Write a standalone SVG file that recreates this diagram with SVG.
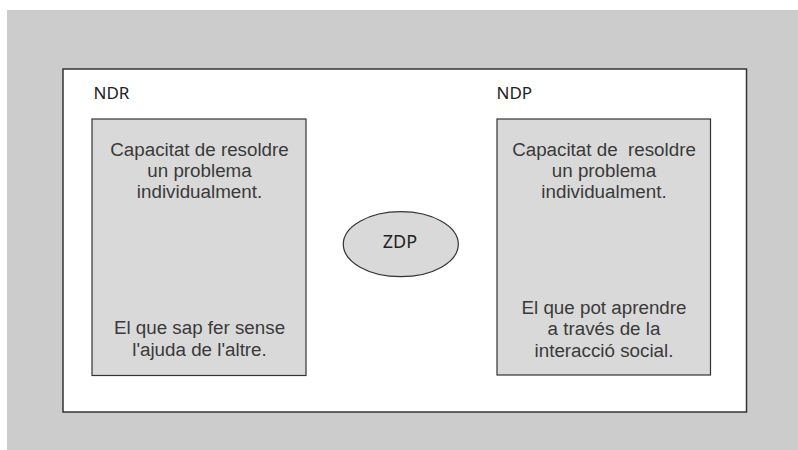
<svg xmlns="http://www.w3.org/2000/svg" width="798" height="450" viewBox="0 0 798 450">
<style>
.bg{fill:#cccccc}
.frame{fill:#ffffff;stroke:#333333;stroke-width:1.5}
.box{fill:#d9d9d9;stroke:#333333;stroke-width:1.2}
.body{font-family:"Liberation Sans",Arial,sans-serif;font-size:18.8px;fill:#3a3a3a;text-anchor:middle;white-space:pre}
.label{font-family:"Noto Sans","Open Sans",sans-serif;font-size:17px;fill:#222222}
.zdp{font-family:"Noto Sans","Open Sans",sans-serif;font-size:18px;fill:#222222;text-anchor:middle}
</style>
<rect x="0" y="0" width="798" height="450" fill="#ffffff"/>
<rect class="bg" x="7" y="10" width="791" height="440"/>
<g id="frame">
<rect class="frame" x="63" y="69" width="683.5" height="343"/>
</g>
<g id="ndr">
<text class="label" x="93.5" y="98.5">NDR</text>
<rect class="box" x="92" y="119" width="214" height="256.5"/>
<text class="body" x="199.5" y="156">Capacitat de resoldre</text>
<text class="body" x="199.5" y="177">un problema</text>
<text class="body" x="199.5" y="198">individualment.</text>
<text class="body" x="199.5" y="334">El que sap fer sense</text>
<text class="body" x="199.5" y="356">l'ajuda de l'altre.</text>
</g>
<g id="ndp">
<text class="label" x="496.5" y="98.5">NDP</text>
<rect class="box" x="497" y="119" width="213.5" height="256"/>
<text class="body" x="604" y="156" xml:space="preserve">Capacitat de  resoldre</text>
<text class="body" x="604" y="177">un problema</text>
<text class="body" x="604" y="198">individualment.</text>
<text class="body" x="604" y="313.5">El que pot aprendre</text>
<text class="body" x="604" y="335">a través de la</text>
<text class="body" x="604" y="356.5">interacció social.</text>
</g>
<g id="zdp">
<ellipse class="box" cx="400.8" cy="244.2" rx="57.5" ry="32.5"/>
<text class="zdp" x="400" y="248">ZDP</text>
</g>
<g id="connectors"></g>
</svg>
